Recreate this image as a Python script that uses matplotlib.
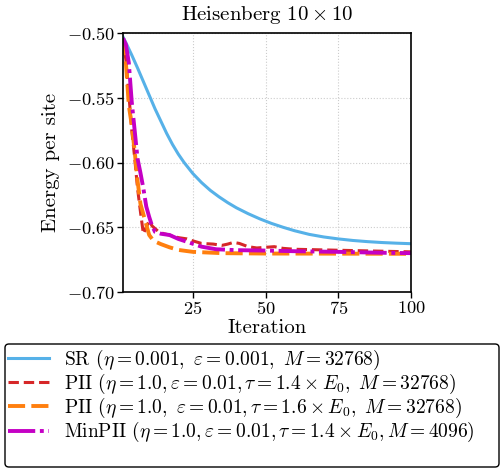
import numpy as np
import matplotlib
matplotlib.use('Agg')
import matplotlib.pyplot as plt
from matplotlib.patches import FancyBboxPatch

plt.rcParams['font.family'] = 'serif'
plt.rcParams['font.serif'] = ['cmr10']
plt.rcParams['mathtext.fontset'] = 'cm'
plt.rcParams['axes.formatter.use_mathtext'] = True

# energy per site vs iteration for each optimizer
sr_iter = [1, 2, 4, 6, 8, 10, 12, 14, 16, 18, 20, 22, 25, 28, 31, 34, 37, 40, 44, 48, 52, 56,
           60, 65, 70, 75, 80, 85, 90, 95, 100]
sr_energy = [-0.503, -0.5075, -0.517, -0.527, -0.5375, -0.548, -0.5585, -0.568, -0.5775, -0.586,
             -0.5935, -0.600, -0.6085, -0.6155, -0.6215, -0.6265, -0.631, -0.635, -0.6395, -0.6435,
             -0.647, -0.650, -0.6527, -0.6555, -0.6575, -0.659, -0.6602, -0.6611, -0.6618, -0.6623,
             -0.6627]

pii14_iter = [1, 2, 3, 4, 5, 6, 7, 8, 9, 10, 11, 13, 15, 17, 20, 23, 25, 28, 32, 35, 37, 39, 41, 44,
              47, 50, 53, 56, 60, 70, 80, 90, 100]
pii14_energy = [-0.504, -0.521, -0.547, -0.575, -0.596, -0.620, -0.638, -0.655, -0.650, -0.645,
                -0.649, -0.653, -0.655, -0.656, -0.658, -0.659, -0.6605, -0.6625, -0.663, -0.664,
                -0.663, -0.6617, -0.6625, -0.665, -0.666, -0.6655, -0.665, -0.6663, -0.667,
                -0.6675, -0.668, -0.6685, -0.669]

pii16_iter = [1, 2, 3, 4, 5, 6, 7, 8, 9, 10, 11, 12, 14, 17, 20, 25, 30, 35, 50, 100]
pii16_energy = [-0.504, -0.523, -0.556, -0.571, -0.591, -0.614, -0.632, -0.640, -0.648, -0.656,
                -0.659, -0.661, -0.663, -0.6655, -0.6675, -0.669, -0.6695, -0.670, -0.6703, -0.6705]

minpii_iter = [1, 2, 3, 4, 5, 6, 7, 8, 9, 10, 11, 12, 14, 17, 20, 24, 28, 33, 40, 50, 60, 75, 90, 100]
minpii_energy = [-0.504, -0.509, -0.523, -0.553, -0.575, -0.597, -0.608, -0.620, -0.634, -0.642,
                 -0.649, -0.6535, -0.655, -0.656, -0.659, -0.662, -0.665, -0.667, -0.6677, -0.668,
                 -0.6685, -0.669, -0.6697, -0.670]

labels = [r'SR ($\eta = 0.001,\ \varepsilon = 0.001,\ M = 32768$)',
          r'PII ($\eta = 1.0,\varepsilon = 0.01,\tau = 1.4 \times E_0,\ M = 32768$)',
          r'PII ($\eta = 1.0,\ \varepsilon = 0.01,\tau = 1.6 \times E_0,\ M = 32768$)',
          r'MinPII ($\eta = 1.0,\varepsilon = 0.01,\tau = 1.4 \times E_0,M = 4096$)']

W, H = 502, 468
fig = plt.figure(figsize=(W / 100, H / 100), dpi=100)
ax = fig.add_axes([123 / W, 1 - 292 / H, 288 / W, 259 / H])

ax.plot(sr_iter, sr_energy, color='#56b1e8', lw=2.2, label=labels[0])
ax.plot(pii14_iter, pii14_energy, color='#d62728', lw=2.2, ls=(0, (3.4, 1.6)), label=labels[1])
ax.plot(pii16_iter, pii16_energy, color='#ff7f0e', lw=2.8, ls=(0, (4.4, 1.6)), label=labels[2])
ax.plot(minpii_iter, minpii_energy, color='#c400c4', lw=2.8, ls=(0, (7, 1.2, 1, 1.2)), label=labels[3])

ax.set_xlim(1, 100)
ax.set_ylim(-0.70, -0.50)
ax.set_xticks([25, 50, 75, 100])
ax.set_yticks([-0.70, -0.65, -0.60, -0.55, -0.50])
ax.grid(True, ls=':', color='#cccccc', lw=0.8)
ax.tick_params(direction='out', length=4, width=1, labelsize=13.2, pad=2)
for s in ax.spines.values():
    s.set_linewidth(1.2)

ax.set_title(r'Heisenberg $10 \times 10$', fontsize=15, pad=9)
ax.set_xlabel('Iteration', fontsize=15, labelpad=1)
ax.set_ylabel('Energy per site', fontsize=15, labelpad=5)

# legend box spans the full width under the axes
frame = FancyBboxPatch((5 / W, 1 - 467 / H), 494 / W, 123 / H,
                       boxstyle='round,pad=0,rounding_size=0.008',
                       transform=fig.transFigure, facecolor='white',
                       edgecolor='black', lw=1.0, zorder=0)
fig.patches.append(frame)
fig.legend(loc='upper left', bbox_to_anchor=(5 / W, 1 - 345 / H), fontsize=14,
           frameon=False, handlelength=2.1, handletextpad=0.8, labelspacing=0.0,
           borderaxespad=0, borderpad=0.15)

fig.savefig('out.png', dpi=100)
